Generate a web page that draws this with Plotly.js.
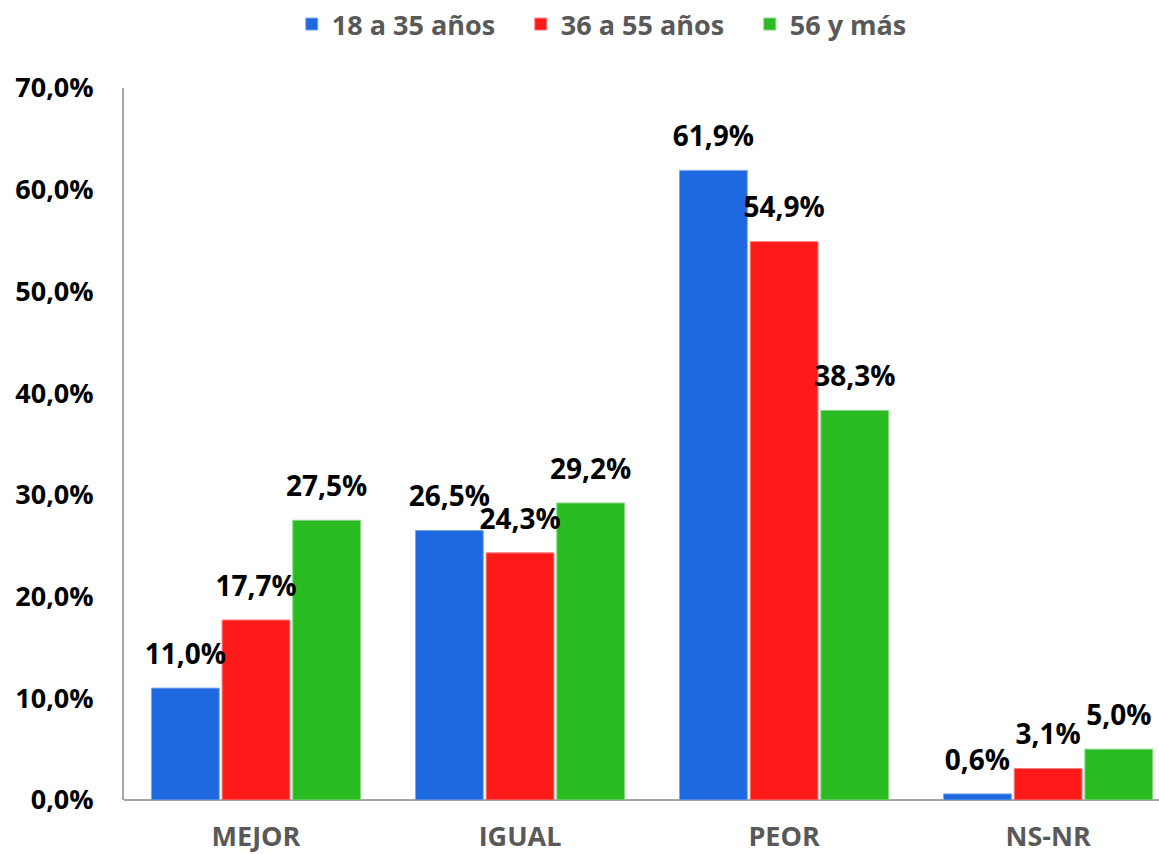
<!DOCTYPE html>
<html><head><meta charset="utf-8">
<script src="https://cdn.plot.ly/plotly-3.0.1.min.js"></script>
<style>html,body{margin:0;padding:0;background:#fff;}#chart{width:1159px;height:854px;}</style>
</head><body><div id="chart"></div>
<script>
const categories = ["MEJOR", "IGUAL", "PEOR", "NS-NR"];
const seriesNames = ["18 a 35 años", "36 a 55 años", "56 y más"];
const valsJoven = [11.0, 26.5, 61.9, 0.6];
const valsMedio = [17.7, 24.3, 54.9, 3.1];
const valsMayor = [27.5, 29.2, 38.3, 5.0];
const yTickVals = [0, 10, 20, 30, 40, 50, 60, 70];
const yTickText = ["0,0%", "10,0%", "20,0%", "30,0%", "40,0%", "50,0%", "60,0%", "70,0%"];

const colors = ["#1f69e0", "#ff1a1a", "#2abb22"];
const lineColors = ["#7aa6ec", "#ff8080", "#86d882"];
const fmt = v => v.toFixed(1).replace(".", ",") + "%";
const FONT = "Open Sans, sans-serif";

const allVals = [valsJoven, valsMedio, valsMayor];
const bars = allVals.map((vals, i) => ({
  type: "bar",
  name: seriesNames[i],
  x: categories,
  y: vals,
  offsetgroup: "g" + i,
  marker: {color: colors[i], line: {color: lineColors[i], width: 1}},
  hoverinfo: "none"
}));
const labels = allVals.map((vals, i) => ({
  type: "scatter",
  mode: "markers+text",
  showlegend: false,
  x: categories,
  y: vals,
  offsetgroup: "g" + i,
  marker: {size: 26, opacity: 0, color: colors[i]},
  text: vals.map(fmt),
  textposition: "top center",
  cliponaxis: false,
  textfont: {family: FONT, size: 28, color: "#000000", weight: 700},
  hoverinfo: "none"
}));

const layout = {
  width: 1159, height: 854,
  margin: {l: 124, r: 0, t: 88, b: 54},
  paper_bgcolor: "#ffffff",
  plot_bgcolor: "#ffffff",
  barmode: "group",
  bargap: 0.197,
  bargroupgap: 0.04,
  scattermode: "group",
  scattergap: 0.197,
  showlegend: true,
  legend: {
    orientation: "h", x: 0.494, xref: "paper", xanchor: "center",
    y: 1.0, yref: "container", yanchor: "top",
    font: {family: FONT, size: 27, color: "#595959", weight: 700},
    itemwidth: 30, traceorder: "normal",
    entrywidth: 184
  },
  xaxis: {
    type: "category",
    range: [-0.5, 3.42],
    showline: false, showgrid: false, zeroline: false,
    ticks: "", ticklabelstandoff: 18,
    tickfont: {family: FONT, size: 27, color: "#595959", weight: 700}
  },
  yaxis: {
    range: [0, 70],
    tickvals: yTickVals, ticktext: yTickText,
    showline: true, linecolor: "#a6a6a6", linewidth: 2,
    showgrid: false, zeroline: true, zerolinecolor: "#a6a6a6", zerolinewidth: 2,
    ticks: "", ticklabelstandoff: 23,
    tickfont: {family: FONT, size: 27, color: "#000000", weight: 700}
  }
};

Plotly.newPlot("chart", bars.concat(labels), layout, {displayModeBar: false, staticPlot: true});
</script></body></html>
